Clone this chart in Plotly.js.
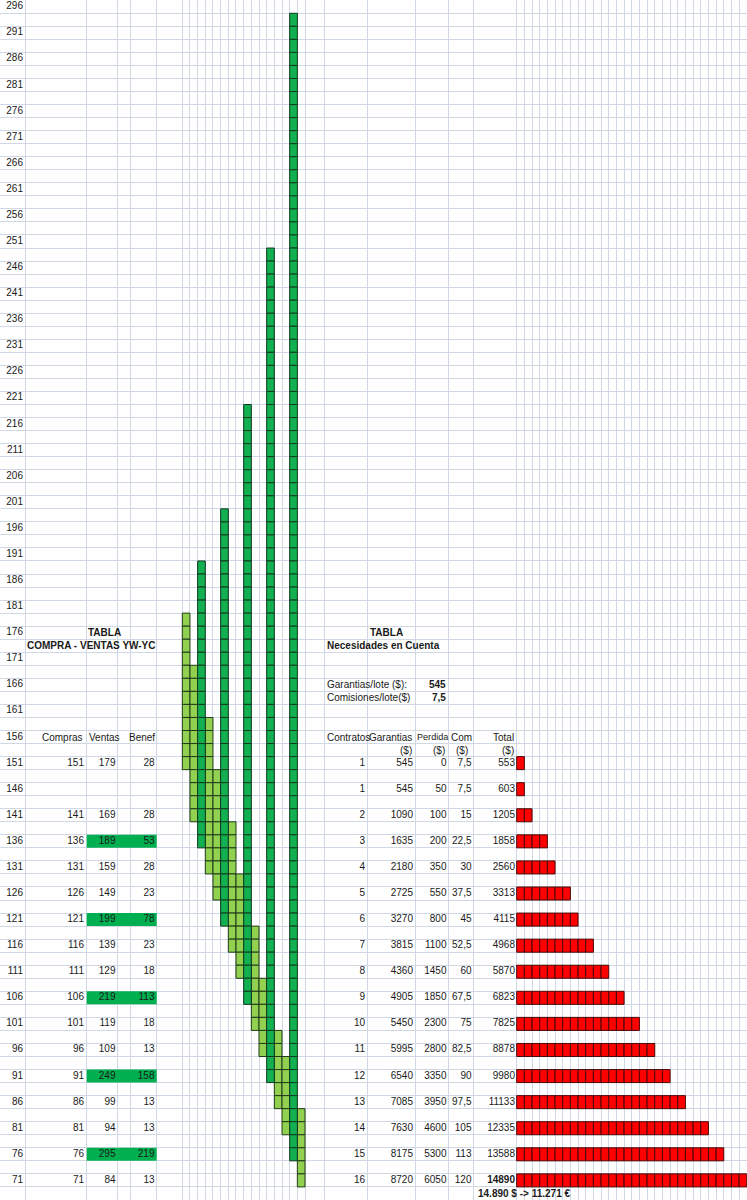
<!DOCTYPE html>
<html><head><meta charset="utf-8">
<script src="https://cdn.plot.ly/plotly-3.0.1.min.js"></script>
<style>html,body{margin:0;padding:0;background:#fff;overflow:hidden}#chart{width:747px;height:1200px}</style>
</head><body><div id="chart"></div>
<script>
// ---------- DATA ----------
const rowLabels = [296,291,286,281,276,271,266,261,256,251,246,241,236,231,226,221,216,211,206,201,196,191,186,181,176,171,166,161,156,151,146,141,136,131,126,121,116,111,106,101,96,91,86,81,76,71];

// Tabla Compra - Ventas YW-YC
const compras = [151,141,136,131,126,121,116,111,106,101,96,91,86,81,76,71];
const ventas  = [179,169,189,159,149,199,139,129,219,119,109,249,99,94,295,84];
const benef   = [28,28,53,28,23,78,23,18,113,18,13,158,13,13,219,13];
const destacadas = [false,false,true,false,false,true,false,false,true,false,false,true,false,false,true,false];

// Tabla Necesidades en Cuenta
const filasCuenta = [151,146,141,136,131,126,121,116,111,106,101,96,91,86,81,76,71];
const contratos = [1,1,2,3,4,5,6,7,8,9,10,11,12,13,14,15,16];
const garantias = [545,545,1090,1635,2180,2725,3270,3815,4360,4905,5450,5995,6540,7085,7630,8175,8720];
const perdida   = [0,50,100,200,350,550,800,1100,1450,1850,2300,2800,3350,3950,4600,5300,6050];
const comision  = [7.5,7.5,15,22.5,30,37.5,45,52.5,60,67.5,75,82.5,90,97.5,105,113,120];
const total     = [553,603,1205,1858,2560,3313,4115,4968,5870,6823,7825,8878,9980,11133,12335,13588,14890];
const garantiaLote = 545;
const comisionLote = 7.5;
const conversion = "14.890 $ -> 11.271 €";

// ---------- LAYOUT CONSTANTS ----------
const W = 747, H = 1200;
const STEP = 2.5;             // price per spreadsheet row
const TOP_ROW = rowLabels[0];
const Y_TOP = 297.30, Y_BOT = 67.24;
const CELL = 7.67;            // narrow column width (px)
const GREEN_START = 182.3;    // first bar column (px)
const RED_START = 516.7;      // first red cell column (px)
const USD_PER_CELL = 500;

const FONT = 'Liberation Sans, Arial, sans-serif';
const FS = 10;
const TXT = '#1a1a1a';
const GRID = '#d0d7e5';

// vertical gridlines (spreadsheet column borders)
const vgrid = [25, 86.7, 117.3, 130, 156.7];
for (let j = 0; j <= 16; j++) vgrid.push(GREEN_START + CELL * j);
vgrid.push(324, 367.7, 415.7, 448.3, 473.3);
for (let j = 0; j <= 30; j++) vgrid.push(RED_START + CELL * j);
// horizontal gridlines (row borders)
const hgrid = [];
for (let k = 0; k <= 92; k++) hgrid.push(TOP_ROW + STEP / 2 - STEP * k);

const traces = [];

// highlighted cells (Ventas + Benef) in left table
const hl = {x: [], y: [], base: []};
compras.forEach((c, i) => { if (destacadas[i]) { hl.x.push(156.7 - 86.7); hl.base.push(86.7); hl.y.push(c); } });
traces.push({type: 'bar', orientation: 'h', x: hl.x, base: hl.base, y: hl.y, width: STEP,
  marker: {color: '#00b050', line: {width: 0}}, hoverinfo: 'skip', xaxis: 'x', yaxis: 'y'});

// green trade bars (one cell per spreadsheet row)
function tradeCells(big) {
  const t = {x: [], y: [], base: []};
  compras.forEach((b, i) => {
    if (destacadas[i] !== big) return;
    const kTop = Math.ceil((TOP_ROW - ventas[i]) / STEP);
    const kBot = Math.round((TOP_ROW - b) / STEP);
    for (let k = kTop; k <= kBot; k++) {
      const c = TOP_ROW - STEP * k;
      t.x.push(i); t.base.push(c - STEP / 2); t.y.push(STEP);
    }
  });
  return t;
}
const light = tradeCells(false), dark = tradeCells(true);
traces.push({type: 'bar', x: light.x, y: light.y, base: light.base, width: 1,
  marker: {color: '#92d050', line: {color: '#1f3a1a', width: 1}}, hoverinfo: 'skip', xaxis: 'x3', yaxis: 'y'});
traces.push({type: 'bar', x: dark.x, y: dark.y, base: dark.base, width: 1,
  marker: {color: '#12b050', line: {color: '#103a1e', width: 1}}, hoverinfo: 'skip', xaxis: 'x3', yaxis: 'y'});

// red total bars
const red = {x: [], y: [], base: []};
total.forEach((t, i) => {
  const n = Math.round(t / USD_PER_CELL);
  for (let j = 0; j < n; j++) { red.x.push(USD_PER_CELL); red.base.push(USD_PER_CELL * j); red.y.push(filasCuenta[i]); }
});
traces.push({type: 'bar', orientation: 'h', x: red.x, y: red.y, base: red.base, width: STEP,
  marker: {color: '#ff0000', line: {color: '#4a0808', width: 1}}, hoverinfo: 'skip', xaxis: 'x2', yaxis: 'y'});

// text helper
function txt(xs, ys, texts, pos) {
  return {type: 'scatter', mode: 'text', x: xs, y: ys, text: texts, textposition: pos || 'middle left',
    textfont: {family: FONT, size: FS, color: TXT}, hoverinfo: 'skip', cliponaxis: false, xaxis: 'x', yaxis: 'y'};
}
const fill = (n, v) => Array(n).fill(v);
const fmt = v => String(v).replace('.', ',');

// row labels
traces.push(txt(fill(rowLabels.length, 23), rowLabels, rowLabels.map(String)));
// left table
traces.push(txt(fill(compras.length, 84), compras, compras.map(String)));
traces.push(txt(fill(ventas.length, 115.5), compras, ventas.map(String)));
traces.push(txt(fill(benef.length, 154.5), compras, benef.map(String)));
// right table
const nR = filasCuenta.length;
traces.push(txt(fill(nR, 365), filasCuenta, contratos.map(String)));
traces.push(txt(fill(nR, 413), filasCuenta, garantias.map(String)));
traces.push(txt(fill(nR, 446.5), filasCuenta, perdida.map(String)));
traces.push(txt(fill(nR, 471.5), filasCuenta, comision.map(fmt)));
traces.push(txt(fill(nR, 515), filasCuenta, total.map((v, i) => i === nR - 1 ? '<b>' + v + '</b>' : String(v))));

// headers as annotations
function ann(text, x, y, xanchor, bold, extra) {
  return Object.assign({text: bold ? '<b>' + text + '</b>' : text, x: x, y: y, xref: 'x', yref: 'y',
    xanchor: xanchor, yanchor: 'middle', showarrow: false, borderpad: 0,
    font: {family: FONT, size: FS, color: TXT}}, extra || {});
}
const annotations = [
  ann('TABLA', 104.5, 176, 'center', true),
  ann('COMPRA - VENTAS YW-YC', 91, 173.5, 'center', true),
  ann('Compras', 84, 156, 'right'),
  ann('Ventas', 87.5, 156, 'left'),
  ann('Benef', 155.5, 156, 'right'),
  ann('TABLA', 386, 176, 'center', true),
  ann('Necesidades en Cuenta', 326, 173.5, 'left', true),
  ann('Garantias/lote ($):', 326, 166, 'left'),
  ann(String(garantiaLote), 446.5, 166, 'right', true),
  ann('Comisiones/lote($)', 326, 163.5, 'left'),
  ann(fmt(comisionLote), 446.5, 163.5, 'right', true),
  ann('Contratos', 325.5, 156, 'left'),
  ann('Garantias', 412.5, 156, 'right'),
  ann('Perdida', 416.3, 156, 'left', false, {font: {family: FONT, size: 9.1, color: TXT}}),
  ann('Com', 449.8, 156, 'left'),
  ann('Total', 515, 156, 'right'),
  ann('($)', 412.5, 153.5, 'right'),
  ann('($)', 445.5, 153.5, 'right'),
  ann('($)', 469, 153.5, 'right'),
  ann('($)', 515, 153.5, 'right'),
  ann(conversion, 476.5, 68.5, 'left', true)
];

const hidden = {showgrid: false, zeroline: false, showline: false, showticklabels: false, ticks: '', fixedrange: true};
const layout = {
  width: W, height: H, margin: {l: 0, r: 0, t: 0, b: 0, pad: 0},
  paper_bgcolor: '#ffffff', plot_bgcolor: '#ffffff', showlegend: false, barmode: 'overlay',
  xaxis: {range: [0, W], tickmode: 'array', tickvals: vgrid, showgrid: true, gridcolor: GRID, gridwidth: 1,
    zeroline: false, showline: false, showticklabels: false, ticks: '', fixedrange: true},
  xaxis2: Object.assign({overlaying: 'x', range: [-RED_START / CELL * USD_PER_CELL, (W - RED_START) / CELL * USD_PER_CELL]}, hidden),
  xaxis3: Object.assign({overlaying: 'x', range: [-GREEN_START / CELL - 0.5, (W - GREEN_START) / CELL - 0.5]}, hidden),
  yaxis: {range: [Y_BOT, Y_TOP], tickmode: 'array', tickvals: hgrid, showgrid: true, gridcolor: GRID, gridwidth: 1,
    zeroline: false, showline: false, showticklabels: false, ticks: '', fixedrange: true},
  annotations: annotations
};
Plotly.newPlot('chart', traces, layout, {displayModeBar: false, staticPlot: true});
</script>
</body></html>
